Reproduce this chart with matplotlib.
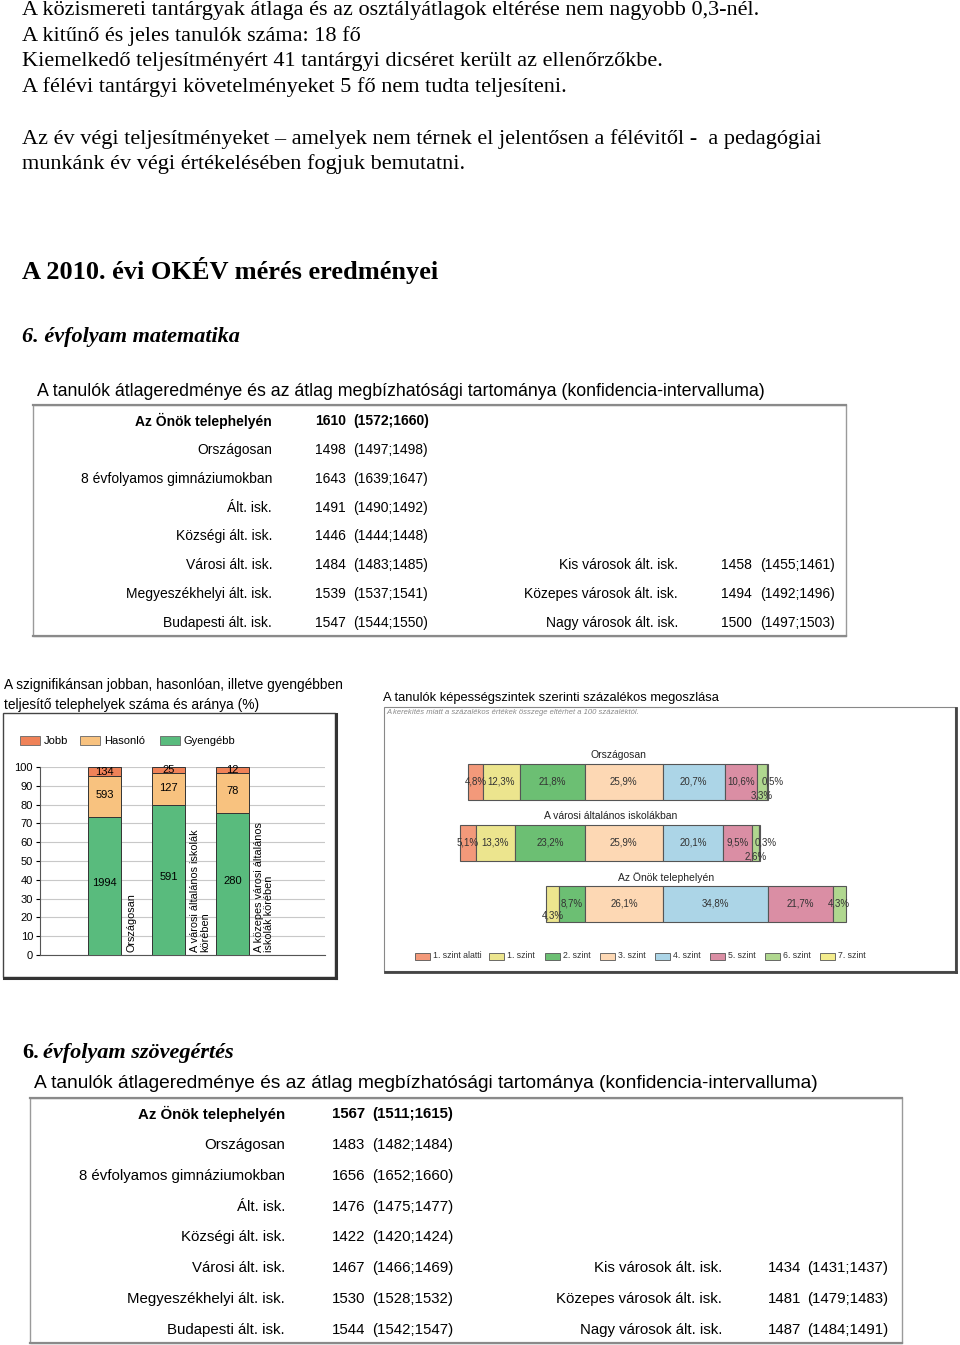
import matplotlib.pyplot as plt
from matplotlib.patches import Rectangle
import numpy as np

W, H = 960, 1345

# --- text of the page ---
intro_lines = [
    "A közismereti tantárgyak átlaga és az osztályátlagok eltérése nem nagyobb 0,3-nél.",
    "A kitűnő és jeles tanulók száma: 18 fő",
    "Kiemelkedő teljesítményért 41 tantárgyi dicséret került az ellenőrzőkbe.",
    "A félévi tantárgyi követelményeket 5 fő nem tudta teljesíteni.",
]
para_lines = [
    "Az év végi teljesítményeket – amelyek nem térnek el jelentősen a félévitől -  a pedagógiai",
    "munkánk év végi értékelésében fogjuk bemutatni.",
]
heading = "A 2010. évi OKÉV mérés eredményei"
table_title = "A tanulók átlageredménye és az átlag megbízhatósági tartománya (konfidencia-intervalluma)"

# --- table data ---
left_labels = ["Az Önök telephelyén", "Országosan", "8 évfolyamos gimnáziumokban", "Ált. isk.",
               "Községi ált. isk.", "Városi ált. isk.", "Megyeszékhelyi ált. isk.", "Budapesti ált. isk."]
right_labels = ["Kis városok ált. isk.", "Közepes városok ált. isk.", "Nagy városok ált. isk."]

math_mean = [1610, 1498, 1643, 1491, 1446, 1484, 1539, 1547]
math_lo = [1572, 1497, 1639, 1490, 1444, 1483, 1537, 1544]
math_hi = [1660, 1498, 1647, 1492, 1448, 1485, 1541, 1550]
math_r_mean = [1458, 1494, 1500]
math_r_lo = [1455, 1492, 1497]
math_r_hi = [1461, 1496, 1503]

read_mean = [1567, 1483, 1656, 1476, 1422, 1467, 1530, 1544]
read_lo = [1511, 1482, 1652, 1475, 1420, 1466, 1528, 1542]
read_hi = [1615, 1484, 1660, 1477, 1424, 1469, 1532, 1547]
read_r_mean = [1434, 1481, 1487]
read_r_lo = [1431, 1479, 1484]
read_r_hi = [1437, 1483, 1491]

# --- significance bar chart data (counts) ---
sig_groups = ["Országosan", "A városi általános iskolák\nkörében", "A közepes városi általános\niskolák körében"]
sig_jobb = [134, 25, 12]
sig_hasonlo = [593, 127, 78]
sig_gyengebb = [1994, 591, 280]

# --- skill level distribution (%) ---
level_names = ["1. szint alatti", "1. szint", "2. szint", "3. szint", "4. szint", "5. szint", "6. szint", "7. szint"]
level_rows = ["Országosan", "A városi általános iskolákban", "Az Önök telephelyén"]
level_orszagos = [4.8, 12.3, 21.8, 25.9, 20.7, 10.6, 3.3, 0.5]
level_varosi = [5.1, 13.3, 23.2, 25.9, 20.1, 9.5, 2.6, 0.3]
level_onok = [0, 4.3, 8.7, 26.1, 34.8, 21.7, 4.3, 0]

level_colors = ["#f3997a", "#ece58e", "#6cbf73", "#fdd8b4", "#acd5e7", "#da8ea4", "#b0d78f", "#f3ec8c"]

fig = plt.figure(figsize=(W / 100, H / 100), dpi=100)


def fx(x):
    return x / W


def fy(y):
    return 1 - y / H


def ftext(x, y, s, **kw):
    kw.setdefault("va", "center")
    fig.text(fx(x), fy(y), s, **kw)


def frect(x0, y0, x1, y1, **kw):
    fig.add_artist(Rectangle((fx(x0), fy(y1)), fx(x1) - fx(x0), fy(y0) - fy(y1),
                             transform=fig.transFigure, **kw))


def fline(xs, ys, **kw):
    fig.add_artist(plt.Line2D([fx(v) for v in xs], [fy(v) for v in ys],
                              transform=fig.transFigure, **kw))


serif = "Liberation Serif"
sans = "Liberation Sans"

# page text
for i, line in enumerate(intro_lines):
    ftext(22, 10 + i * 25.7, line, family=serif, fontsize=16)
for i, line in enumerate(para_lines):
    ftext(22, 139 + i * 25.5, line, family=serif, fontsize=16)
ftext(22, 270, heading, family=serif, fontsize=19, weight="bold")
ftext(22, 337, "6. évfolyam matematika", family=serif, fontsize=16, weight="bold", style="italic")
ftext(22, 1053, "6.", family=serif, fontsize=16, weight="bold")
ftext(43, 1053, "évfolyam szövegértés", family=serif, fontsize=16, weight="bold", style="italic")


def draw_table(top, title_size, box, row_y, xs, means, los, his, r_means, r_los, r_his, size):
    x0, y0, x1, y1 = box
    ftext(x0 + 4, top, table_title, family=sans, fontsize=title_size)
    frect(x0, y0, x1, y1, facecolor="none", edgecolor="#9a9a9a", lw=1.0)
    fline([x0, x1], [y0, y0], color="#8a8a8a", lw=1.6)
    fline([x0, x1], [y1, y1], color="#8a8a8a", lw=1.6)
    lab_x, num_x, ci_x, rlab_x, rnum_x, rci_x = xs
    for i, lab in enumerate(left_labels):
        w = "bold" if i == 0 else "normal"
        y = row_y[i]
        ftext(lab_x, y, lab, family=sans, fontsize=size, ha="right", weight=w)
        ftext(num_x, y, str(means[i]), family=sans, fontsize=size, weight=w)
        ftext(ci_x, y, f"({los[i]};{his[i]})", family=sans, fontsize=size, weight=w)
    for j, lab in enumerate(right_labels):
        y = row_y[5 + j]
        ftext(rlab_x, y, lab, family=sans, fontsize=size, ha="right")
        ftext(rnum_x, y, str(r_means[j]), family=sans, fontsize=size)
        ftext(rci_x, y, f"({r_los[j]};{r_his[j]})", family=sans, fontsize=size)


draw_table(391, 12.8, (33, 405, 846, 636), np.linspace(421, 623, 8),
           (272, 315, 353, 678, 721, 760),
           math_mean, math_lo, math_hi, math_r_mean, math_r_lo, math_r_hi, 10)
draw_table(1083, 13.8, (30, 1098, 902, 1343), np.linspace(1114, 1330, 8),
           (285, 332, 372, 722, 768, 807),
           read_mean, read_lo, read_hi, read_r_mean, read_r_lo, read_r_hi, 10.8)

# ---------- significance stacked bar chart ----------
ftext(4, 685, "A szignifikánsan jobban, hasonlóan, illetve gyengébben", family=sans, fontsize=9.9)
ftext(4, 705, "teljesítő telephelyek száma és aránya (%)", family=sans, fontsize=9.9)
frect(3, 713, 335, 977, facecolor="none", edgecolor="#444444", lw=1.0)
fline([336, 336], [714, 978], color="#333333", lw=2.2)
fline([4, 336], [978, 978], color="#333333", lw=2.2)

sig_colors = ["#59bb7d", "#f8c27f", "#ef8258"]
sig_names = ["Jobb", "Hasonló", "Gyengébb"]
leg_colors = [sig_colors[2], sig_colors[1], sig_colors[0]]
for k, (lx, name) in enumerate(zip([20, 80, 160], sig_names)):
    frect(lx, 736, lx + 20, 745, facecolor=leg_colors[k], edgecolor="#666666", lw=0.6)
    ftext(lx + 24, 740.5, name, family=sans, fontsize=8)

ax = fig.add_axes([fx(40), fy(955), fx(325) - fx(40), fy(767) - fy(955)])
tot = np.array(sig_jobb) + np.array(sig_hasonlo) + np.array(sig_gyengebb)
p_g = np.array(sig_gyengebb) / tot * 100
p_h = np.array(sig_hasonlo) / tot * 100
p_j = np.array(sig_jobb) / tot * 100
pos = np.arange(len(sig_groups))
bw = 0.52
ax.bar(pos, p_g, bw, color=sig_colors[0], edgecolor="#333333", lw=0.7, zorder=3)
ax.bar(pos, p_h, bw, bottom=p_g, color=sig_colors[1], edgecolor="#333333", lw=0.7, zorder=3)
ax.bar(pos, p_j, bw, bottom=p_g + p_h, color=sig_colors[2], edgecolor="#333333", lw=0.7, zorder=3)
for i in pos:
    ax.text(i, p_g[i] / 2 + 1.5, str(sig_gyengebb[i]), ha="center", va="center", fontsize=8, family=sans, zorder=4)
    ax.text(i, p_g[i] + p_h[i] / 2 + 1, str(sig_hasonlo[i]), ha="center", va="center", fontsize=8, family=sans, zorder=4)
    ax.text(i, p_g[i] + p_h[i] + p_j[i] / 2, str(sig_jobb[i]), ha="center", va="center", fontsize=8, family=sans, zorder=4)
    ax.text(i + bw / 2 + 0.08, 1.5, sig_groups[i], rotation=90, ha="left", va="bottom",
            multialignment="left", fontsize=7.8, family=sans, linespacing=1.0, zorder=4)
ax.set_xlim(-1.008, 3.445)
ax.set_ylim(0, 100)
ax.set_yticks(range(0, 101, 10))
ax.set_xticks([])
ax.yaxis.grid(True, color="#c8c8c8", lw=0.8, zorder=0)
ax.tick_params(axis="y", labelsize=8, length=3, pad=2)
for t in ax.get_yticklabels():
    t.set_family(sans)
for s in ["top", "right"]:
    ax.spines[s].set_visible(False)
ax.spines["left"].set_color("#555555")
ax.spines["bottom"].set_color("#555555")
ax.patch.set_alpha(0)

# ---------- skill level distribution chart ----------
ftext(383, 698, "A tanulók képességszintek szerinti százalékos megoszlása", family=sans, fontsize=9.3)
frect(384, 707, 955, 971, facecolor="none", edgecolor="#888888", lw=0.8)
fline([956, 956], [708, 972], color="#444444", lw=2.0)
fline([385, 956], [972, 972], color="#444444", lw=2.0)
ftext(386, 712.5, "A kerekítés miatt a százalékos értékek összege eltérhet a 100 százaléktól.",
      family=sans, fontsize=5.5, style="italic", color="#888888")

ax2 = fig.add_axes([fx(400), fy(935), fx(940) - fx(400), fy(745) - fy(935)])
ax2.set_xlim(-185 / 3, 355 / 3)
ax2.set_ylim(3.115, -0.0)
ax2.axis("off")
rows = [level_orszagos, level_varosi, level_onok]
row_pos = [0.6, 1.6, 2.6]
# label shifts (x in %, y in row units) for crowded small segments
shifts = {(0, 6): (0, 0.22), (1, 6): (0, 0.22), (2, 1): (0, 0.2)}
for r, vals in enumerate(rows):
    vals = np.array(vals)
    start = -(vals[0] + vals[1] + vals[2])
    lefts = start + np.concatenate([[0], np.cumsum(vals)[:-1]])
    yb = row_pos[r]
    for k, v in enumerate(vals):
        if v <= 0:
            continue
        ax2.barh(yb, v, height=0.59, left=lefts[k], color=level_colors[k], edgecolor="#555555", lw=0.8)
        dx, dy = shifts.get((r, k), (0, 0))
        cx = lefts[k] + v / 2 + dx
        if k == 7:
            cx = lefts[k] + 2.2
        ax2.text(cx, yb + dy, f"{v:.1f}%".replace(".", ","), ha="center", va="center",
                 fontsize=7, family=sans, color="#333333")
    ax2.text(lefts[0] + vals.sum() / 2 if r < 2 else 27, yb - 0.43, level_rows[r],
             ha="center", va="center", fontsize=7.5, family=sans, color="#222222")

for k, (lx, name) in enumerate(zip([415, 489, 545, 600, 655, 710, 765, 820], level_names)):
    frect(lx, 952.5, lx + 15, 959.5, facecolor=level_colors[k], edgecolor="#555555", lw=0.6)
    ftext(lx + 18, 956, name, family=sans, fontsize=6.3, color="#333333")

fig.savefig("out.png", dpi=100)
